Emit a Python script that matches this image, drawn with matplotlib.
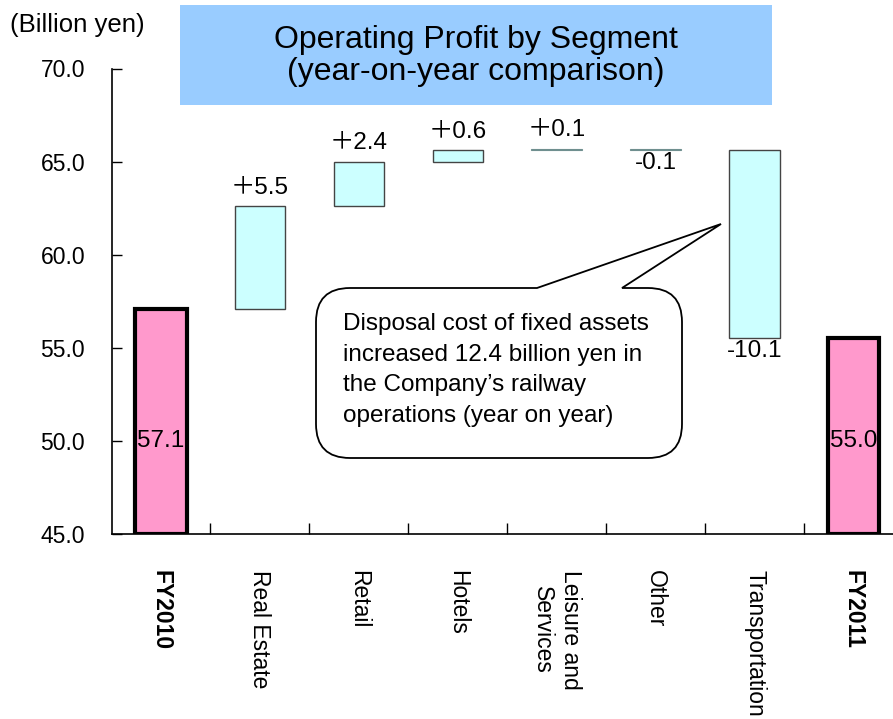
import matplotlib
matplotlib.use("Agg")
import matplotlib.pyplot as plt
from matplotlib.path import Path
from matplotlib.patches import PathPatch, Rectangle
import numpy as np

plt.rcParams['font.family'] = ['Liberation Sans', 'Noto Sans CJK JP', 'DejaVu Sans']

categories = ["FY2010", "Real Estate", "Retail", "Hotels", "Leisure and\nServices",
              "Other", "Transportation", "FY2011"]
start_value = 57.1
deltas = [5.5, 2.4, 0.6, 0.1, -0.1, -10.1]
delta_labels = ["＋5.5", "＋2.4", "＋0.6", "＋0.1", "-0.1", "-10.1"]
end_value = 55.5
total_labels = ["57.1", "55.0"]
yticks = [45.0, 50.0, 55.0, 60.0, 65.0, 70.0]

W, H = 893, 719
fig = plt.figure(figsize=(W / 100, H / 100), dpi=100)
ax_left, ax_right = 111.5 / W, 1.0
ax_top, ax_bot = 1 - 68.5 / H, 1 - 534.0 / H
ax = fig.add_axes([ax_left, ax_bot, ax_right - ax_left, ax_top - ax_bot])

x = np.arange(len(categories))
bw = 0.52
pink = "#FF99CC"
cyan = "#CCFFFF"

# totals
ax.bar(x[0], start_value - 45, bottom=45, width=bw, color=pink, edgecolor="black", linewidth=3, zorder=3)
ax.bar(x[-1], end_value - 45, bottom=45, width=bw, color=pink, edgecolor="black", linewidth=3, zorder=3)

level = start_value
for i, d in enumerate(deltas):
    xi = x[i + 1]
    lo, hi = min(level, level + d), max(level, level + d)
    small = abs(d) < 0.3
    ax.bar(xi, hi - lo, bottom=lo, width=bw * 0.98, color=cyan,
           edgecolor="#6f8f8f" if small else "#444444",
           linewidth=0.8 if small else 1.0, zorder=3)
    if d >= 0:
        ax.text(xi, hi + 0.4, delta_labels[i], ha="center", va="bottom", fontsize=17.5)
    else:
        ax.text(xi, lo - 0.1, delta_labels[i], ha="center", va="top", fontsize=17.5)
    level += d

ax.text(x[0], 50.0, total_labels[0], ha="center", va="center", fontsize=17.5, zorder=4)
ax.text(x[-1], 50.0, total_labels[1], ha="center", va="center", fontsize=17.5, zorder=4)

ax.set_xlim(-0.5, 7.40)
ax.set_ylim(45, 70)
ax.set_yticks(yticks)
ax.set_yticklabels([f"{v:.1f}" for v in yticks], fontsize=16.5)
ax.tick_params(axis="y", direction="in", length=7, width=1, pad=19)
ax.set_xticks(np.arange(len(categories) - 1) + 0.5)
ax.set_xticklabels([])
ax.tick_params(axis="x", direction="in", length=8, width=1)
for i, c in enumerate(categories):
    ax.text(x[i], 43.05, c, rotation=270, ha="center", va="top", fontsize=16.5,
            fontweight="bold" if c.startswith("FY") else "normal",
            linespacing=1.25, transform=ax.transData, clip_on=False)
for s in ["top", "right"]:
    ax.spines[s].set_visible(False)
ax.spines["left"].set_linewidth(1.2)
ax.spines["bottom"].set_linewidth(1.2)

# Title box
def fx(px):
    return px / W
def fy(py):
    return 1 - py / H

fig.patches.append(Rectangle((fx(180), fy(105)), fx(772) - fx(180), fy(5) - fy(105),
                             transform=fig.transFigure, facecolor="#99CCFF", edgecolor="none", zorder=0))
fig.text(fx(476), fy(56), "Operating Profit by Segment\n(year-on-year comparison)", ha="center",
         va="center", fontsize=23, linespacing=1.12)
fig.text(fx(10), fy(25), "(Billion yen)", ha="left", va="center", fontsize=18.5)

# Callout bubble
x0, x1, y0, y1, r = 316, 682, 288, 458, 34
pts = [
    ((x0 + r, y0), Path.MOVETO),
    ((537, y0), Path.LINETO),
    ((721, 224), Path.LINETO),
    ((622, y0), Path.LINETO),
    ((x1 - r, y0), Path.LINETO),
    ((x1, y0), Path.CURVE3), ((x1, y0 + r), Path.CURVE3),
    ((x1, y1 - r), Path.LINETO),
    ((x1, y1), Path.CURVE3), ((x1 - r, y1), Path.CURVE3),
    ((x0 + r, y1), Path.LINETO),
    ((x0, y1), Path.CURVE3), ((x0, y1 - r), Path.CURVE3),
    ((x0, y0 + r), Path.LINETO),
    ((x0, y0), Path.CURVE3), ((x0 + r, y0), Path.CURVE3),
    ((x0 + r, y0), Path.CLOSEPOLY),
]
verts = [(fx(p[0]), fy(p[1])) for p, _ in pts]
codes = [c for _, c in pts]
bubble = PathPatch(Path(verts, codes), transform=fig.transFigure, facecolor="white",
                   edgecolor="black", linewidth=1.3, zorder=5)
fig.patches.append(bubble)
fig.text(fx(343), fy(370), "Disposal cost of fixed assets\nincreased 12.4 billion yen in\nthe Company’s railway\noperations (year on year)",
         ha="left", va="center", fontsize=17.5, linespacing=1.5, zorder=6)

fig.savefig("out.png", dpi=100)
